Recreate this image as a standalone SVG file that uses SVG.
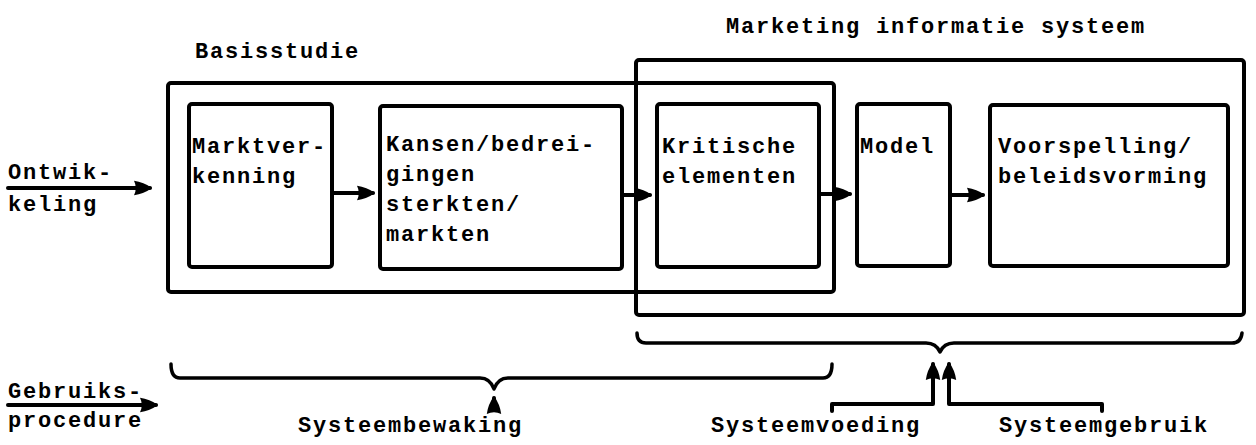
<svg xmlns="http://www.w3.org/2000/svg" width="1256" height="445" viewBox="0 0 1256 445">
<style>
.t{font-family:"Liberation Mono","DejaVu Sans Mono",monospace;font-size:22px;font-weight:bold;letter-spacing:1.8px;fill:#000}
.box{fill:none;stroke:#000;stroke-width:4;stroke-linejoin:round}
.ln{fill:none;stroke:#000;stroke-width:4;stroke-linecap:round;stroke-linejoin:round}
.br{fill:none;stroke:#000;stroke-width:3.5;stroke-linecap:round;stroke-linejoin:round}
</style>
<defs>
<marker id="ah" markerWidth="4.5" markerHeight="4" refX="4" refY="2" orient="auto" markerUnits="strokeWidth">
<path d="M0,0.2 Q2.4,0.5 4.5,2 Q2.4,3.5 0,3.8 Q0.9,2 0,0.2 Z" fill="#000"/>
</marker>
</defs>
<rect width="1256" height="445" fill="#fff"/>

<g id="basisstudie">
<rect class="box" x="168" y="83" width="666" height="209" rx="3"/>
<text class="t" x="195" y="58">Basisstudie</text>
</g>
<g id="mis">
<rect class="box" x="636" y="60" width="608" height="255" rx="3"/>
<text class="t" x="726" y="33">Marketing informatie systeem</text>
</g>

<g id="marktverkenning">
<rect class="box" x="189" y="104" width="143" height="163" rx="3"/>
<text class="t" x="192" y="153">Marktver-</text>
<text class="t" x="192" y="183">kenning</text>
</g>
<g id="kansen">
<rect class="box" x="380" y="106" width="242" height="163" rx="3"/>
<text class="t" x="386" y="151">Kansen/bedrei-</text>
<text class="t" x="386" y="181">gingen</text>
<text class="t" x="386" y="211">sterkten/</text>
<text class="t" x="386" y="241">markten</text>
</g>
<g id="kritische">
<rect class="box" x="657" y="104" width="162" height="163" rx="3"/>
<text class="t" x="662" y="153">Kritische</text>
<text class="t" x="662" y="183">elementen</text>
</g>
<g id="model">
<rect class="box" x="857" y="104" width="93" height="162" rx="3"/>
<text class="t" x="860" y="153">Model</text>
</g>
<g id="voorspelling">
<rect class="box" x="990" y="105" width="238" height="161" rx="3"/>
<text class="t" x="998" y="153">Voorspelling/</text>
<text class="t" x="998" y="183">beleidsvorming</text>
</g>

<g id="ontwikkeling">
<text class="t" x="8" y="179">Ontwik-</text>
<text class="t" x="8" y="211">keling</text>
</g>
<g id="gebruiksprocedure">
<text class="t" x="8" y="398">Gebruiks-</text>
<text class="t" x="8" y="427">procedure</text>
</g>
<g id="systeembewaking"><text class="t" x="298" y="432">Systeembewaking</text></g>
<g id="systeemvoeding"><text class="t" x="711" y="432">Systeemvoeding</text></g>
<g id="systeemgebruik"><text class="t" x="999" y="432">Systeemgebruik</text></g>

<g id="braces">
<path class="br" d="M171,364 Q171,378 180,378 L480,378 Q490,378 494,389 Q498,378 508,378 L823,378 Q832,378 832,364"/>
<path class="br" d="M637,333 Q637,343 646,343 L926,343 Q936,343 940,352 Q944,343 954,343 L1232,343 Q1241,343 1242,333"/>
</g>

<g id="connectors">
<line class="ln" x1="8" y1="188" x2="150" y2="188" marker-end="url(#ah)"/>
<line class="ln" x1="8" y1="405" x2="156" y2="405" marker-end="url(#ah)"/>
<line class="ln" x1="332" y1="193" x2="373" y2="193" marker-end="url(#ah)"/>
<line class="ln" x1="622" y1="195" x2="650" y2="195" marker-end="url(#ah)"/>
<line class="ln" x1="819" y1="194" x2="850" y2="194" marker-end="url(#ah)"/>
<line class="ln" x1="950" y1="195" x2="983" y2="195" marker-end="url(#ah)"/>
<line class="ln" x1="494" y1="408" x2="494" y2="398" marker-end="url(#ah)"/>
<path class="ln" d="M832,411 L832,404 L933,404 L933,364" marker-end="url(#ah)"/>
<path class="ln" d="M1102,411 L1102,404 L949,404 L949,364" marker-end="url(#ah)"/>
</g>
</svg>
